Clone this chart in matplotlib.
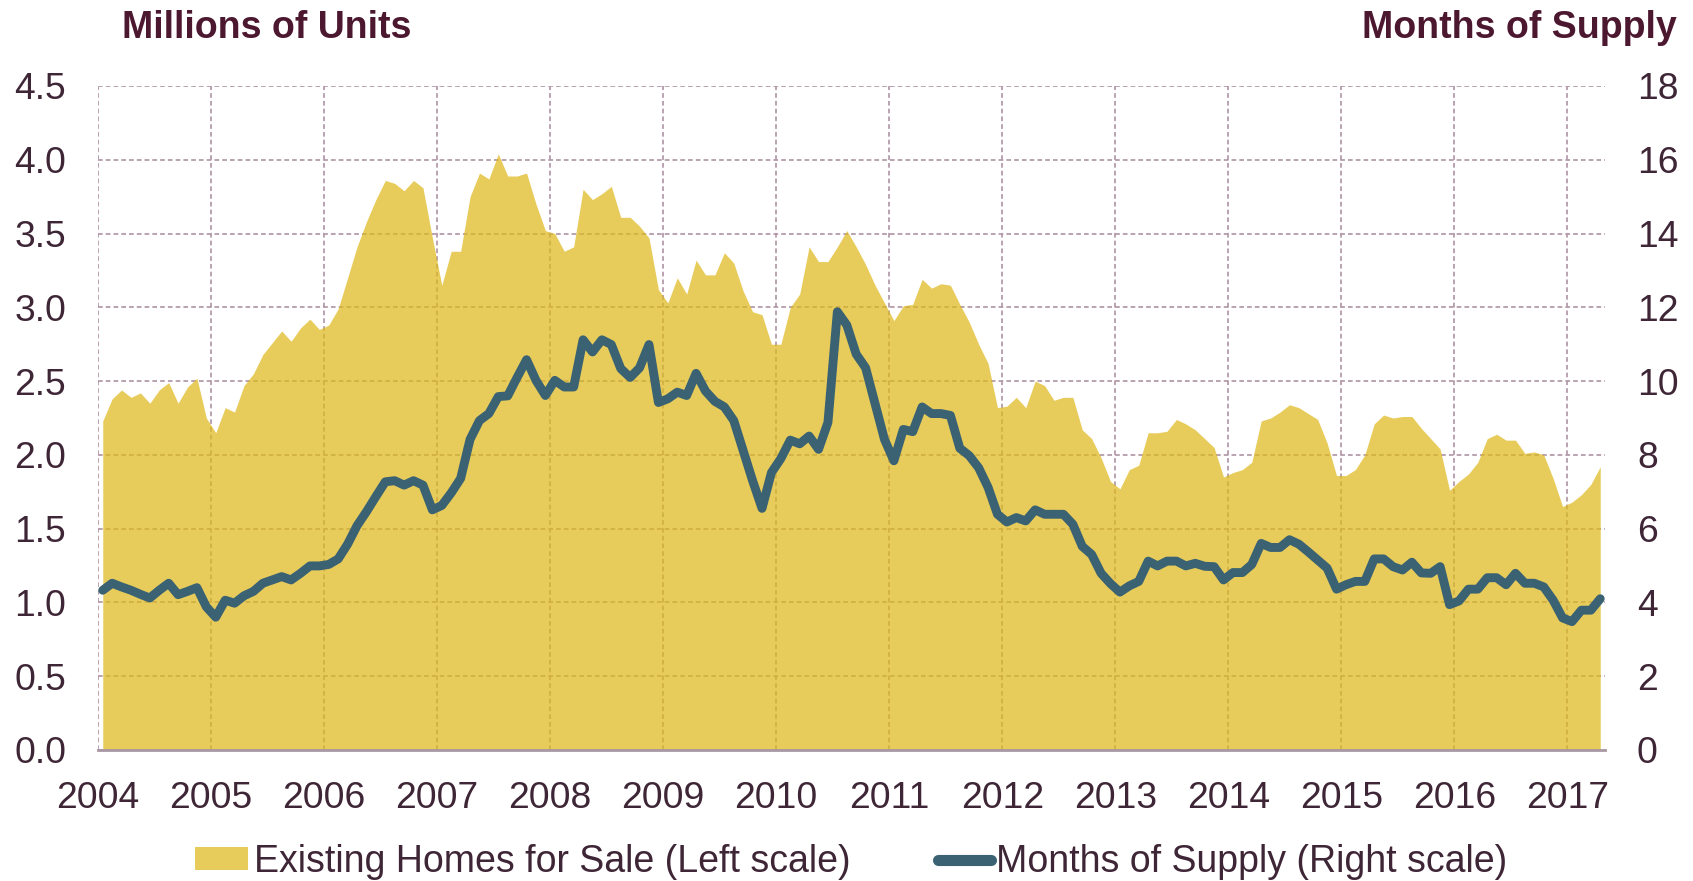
import numpy as np
import matplotlib
matplotlib.use("Agg")
import matplotlib.pyplot as plt
from matplotlib.patches import Patch
from matplotlib.lines import Line2D

plt.rcParams['font.family'] = ['Liberation Sans', 'DejaVu Sans']

years = [str(y) for y in range(2004, 2018)]

# Existing homes for sale, millions of units (monthly, Jan 2004 - Apr 2017)
homes_for_sale = [
    2.23, 2.38, 2.44, 2.39, 2.42, 2.35, 2.44, 2.49, 2.35, 2.46, 2.52, 2.25,
    2.15, 2.32, 2.29, 2.47, 2.55, 2.68, 2.76, 2.84, 2.77, 2.86, 2.92, 2.85,
    2.88, 2.99, 3.20, 3.41, 3.58, 3.73, 3.86, 3.84, 3.79, 3.86, 3.81, 3.47,
    3.15, 3.38, 3.38, 3.75, 3.91, 3.87, 4.04, 3.89, 3.89, 3.91, 3.70, 3.52,
    3.50, 3.38, 3.41, 3.80, 3.73, 3.77, 3.82, 3.61, 3.61, 3.55, 3.47, 3.12,
    3.03, 3.20, 3.09, 3.32, 3.22, 3.22, 3.37, 3.30, 3.11, 2.97, 2.95, 2.75,
    2.75, 3.00, 3.09, 3.41, 3.31, 3.31, 3.41, 3.52, 3.41, 3.29, 3.15, 3.03,
    2.91, 3.01, 3.02, 3.19, 3.13, 3.16, 3.15, 3.02, 2.90, 2.75, 2.62, 2.32,
    2.33, 2.39, 2.32, 2.50, 2.47, 2.37, 2.39, 2.39, 2.17, 2.11, 1.98, 1.82,
    1.77, 1.90, 1.93, 2.15, 2.15, 2.16, 2.24, 2.21, 2.17, 2.11, 2.05, 1.85,
    1.88, 1.90, 1.95, 2.23, 2.25, 2.29, 2.34, 2.32, 2.28, 2.24, 2.08, 1.86,
    1.86, 1.90, 2.00, 2.21, 2.27, 2.25, 2.26, 2.26, 2.18, 2.11, 2.04, 1.76,
    1.82, 1.87, 1.95, 2.11, 2.14, 2.10, 2.10, 2.01, 2.02, 2.00, 1.84, 1.65,
    1.68, 1.73, 1.80, 1.92,
]

# Months of supply (monthly, Jan 2004 - Apr 2017)
months_supply = [
    4.33, 4.52, 4.42, 4.33, 4.22, 4.12, 4.33, 4.52, 4.21, 4.30, 4.40, 3.88,
    3.60, 4.06, 3.98, 4.18, 4.30, 4.52, 4.61, 4.70, 4.61, 4.79, 4.99, 4.99,
    5.03, 5.18, 5.58, 6.08, 6.46, 6.87, 7.27, 7.30, 7.18, 7.30, 7.18, 6.51,
    6.63, 6.97, 7.36, 8.42, 8.93, 9.12, 9.58, 9.60, 10.10, 10.58, 10.02, 9.61,
    10.02, 9.84, 9.84, 11.12, 10.79, 11.12, 10.99, 10.34, 10.10, 10.36, 10.99, 9.42,
    9.52, 9.70, 9.61, 10.21, 9.73, 9.45, 9.30, 8.93, 8.12, 7.30, 6.55, 7.52,
    7.90, 8.40, 8.30, 8.51, 8.15, 8.88, 11.88, 11.52, 10.73, 10.36, 9.39, 8.42,
    7.84, 8.69, 8.63, 9.30, 9.12, 9.12, 9.07, 8.18, 7.98, 7.65, 7.12, 6.39,
    6.18, 6.30, 6.21, 6.51, 6.39, 6.39, 6.39, 6.12, 5.52, 5.30, 4.79, 4.51,
    4.28, 4.45, 4.57, 5.12, 4.99, 5.12, 5.12, 4.99, 5.06, 4.98, 4.97, 4.61,
    4.81, 4.81, 5.03, 5.60, 5.49, 5.49, 5.70, 5.58, 5.37, 5.15, 4.93, 4.36,
    4.48, 4.57, 4.57, 5.18, 5.18, 4.97, 4.88, 5.09, 4.80, 4.79, 4.97, 3.94,
    4.04, 4.36, 4.36, 4.67, 4.67, 4.48, 4.79, 4.52, 4.52, 4.42, 4.06, 3.58,
    3.48, 3.79, 3.79, 4.10,
]

left_ticks = [0.0, 0.5, 1.0, 1.5, 2.0, 2.5, 3.0, 3.5, 4.0, 4.5]
right_ticks = [0, 2, 4, 6, 8, 10, 12, 14, 16, 18]

AREA = '#DFB91D'
AREA_ALPHA = 0.72
LINE = '#3A6272'
GRID = '#B49CAA'
TXT = '#3E2636'
TITLE = '#4C1830'
FS = 26.8

n = len(homes_for_sale)
x = np.arange(n)

fig = plt.figure(figsize=(16.93, 8.81), dpi=100)
ax = fig.add_axes([0.0579, 0.1487, 0.948 - 0.0579, 0.9024 - 0.1487])
ax2 = ax.twinx()

ax.fill_between(x, homes_for_sale, 0, color=AREA, alpha=AREA_ALPHA,
                linewidth=0, zorder=2)
ax2.plot(x, months_supply, color=LINE, lw=6.4, solid_joinstyle='round',
         solid_capstyle='round', zorder=3)

ax.set_xlim(-0.5, n - 0.5)
ax.set_ylim(0, 4.5)
ax2.set_ylim(0, 18)

year_pos = [-0.5 + 12 * k for k in range(len(years))]
ax.set_xticks(year_pos)
ax.set_xticklabels(years)
ax.set_yticks(left_ticks)
ax.set_yticklabels([f"{v:.1f}" for v in left_ticks])
ax2.set_yticks(right_ticks)
ax2.set_yticklabels([str(v) for v in right_ticks])

ax.set_axisbelow(True)
ax.grid(True, color=GRID, linestyle=(0, (2.6, 1.7)), linewidth=1.3, zorder=0)

for a in (ax, ax2):
    for s in ('top', 'left', 'right', 'bottom'):
        a.spines[s].set_visible(False)
ax.spines['bottom'].set_visible(True)
ax.spines['bottom'].set_color('#A898A4')
ax.spines['bottom'].set_linewidth(2.0)
ax.spines['bottom'].set_zorder(4)

ax.tick_params(axis='both', length=0, labelsize=FS, labelcolor=TXT)
ax.tick_params(axis='y', pad=23)
ax.tick_params(axis='x', pad=22)
ax2.tick_params(axis='y', length=0, labelsize=FS, labelcolor=TXT, pad=23)

fig.text(122 / 1693, 1 - 28 / 881, 'Millions of Units', ha='left', va='center',
         fontsize=27, fontweight='bold', color=TITLE)
fig.text(1677 / 1693, 1 - 28 / 881, 'Months of Supply', ha='right', va='center',
         fontsize=27, fontweight='bold', color=TITLE)

handles = [Patch(facecolor=AREA, alpha=AREA_ALPHA, edgecolor='none',
                 label='Existing Homes for Sale (Left scale)'),
           Line2D([0], [0], color=LINE, lw=8, solid_capstyle='round',
                  label='Months of Supply (Right scale)')]
fig.legend(handles=handles, loc='center', bbox_to_anchor=(0.503, 1 - 862 / 881),
           ncol=2, frameon=False, fontsize=27, handlelength=1.4,
           handleheight=0.55, handletextpad=0.15, columnspacing=2.35,
           borderpad=0, borderaxespad=0, labelcolor=TXT)

fig.savefig('out.png', dpi=100)
